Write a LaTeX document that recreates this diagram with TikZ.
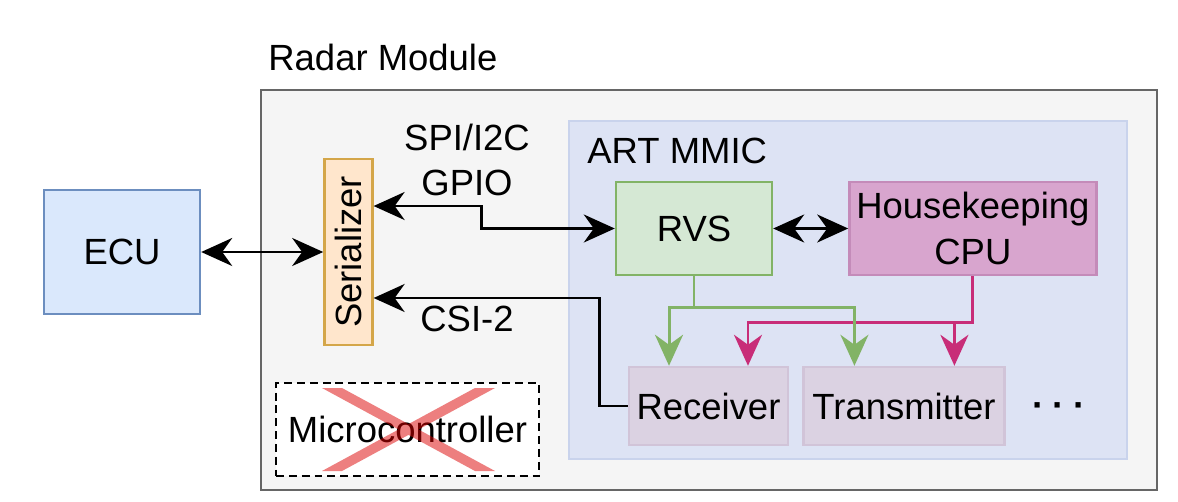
\documentclass[tikz,border=0pt]{standalone}
\usepackage{fontspec}
\setmainfont{Liberation Sans}
\usetikzlibrary{arrows.meta,positioning}
\definecolor{modfill}{HTML}{F5F5F5}
\definecolor{modline}{HTML}{666666}
\definecolor{ecufill}{HTML}{DAE8FC}
\definecolor{eculine}{HTML}{6C8EBF}
\definecolor{serfill}{HTML}{FFE6CC}
\definecolor{serline}{HTML}{D4A649}
\definecolor{mmicfill}{HTML}{DDE3F4}
\definecolor{mmicline}{HTML}{C9D3EC}
\definecolor{rvsfill}{HTML}{D5E8D4}
\definecolor{rvsline}{HTML}{82B366}
\definecolor{hkfill}{HTML}{D8A5CE}
\definecolor{hkline}{HTML}{C48BB9}
\definecolor{rffill}{HTML}{DBD2E2}
\definecolor{rfline}{HTML}{D1C4D8}
\definecolor{hkpink}{HTML}{C82D78}
\definecolor{crossred}{RGB}{220,0,0}

\begin{document}
\begin{tikzpicture}[x=0.02cm,y=-0.02cm,>={Stealth[length=0.62cm,width=0.56cm,inset=0.2cm]},line width=1.6pt,font=\fontsize{20.75}{26}\selectfont]
\tikzstyle{box}=[draw,inner sep=2pt,line width=1.4pt]
\tikzstyle{txt}=[inner sep=0pt]
\tikzstyle{link}=[line width=1.7pt]
  \useasboundingbox (0,0) rectangle (1178,501);
  \node[box,draw=modline,fill=modfill,minimum width=17.92cm,minimum height=8cm](module) at (709,290){};
  \node[txt,anchor=west](module-label) at (267,57){Radar Module};
  \node[box,draw=mmicline,fill=mmicfill,minimum width=11.16cm,minimum height=6.76cm](mmic) at (848,290){};
  \node[txt,anchor=west](mmic-label) at (586,151){ART MMIC};
  \node[box,draw=eculine,fill=ecufill,minimum width=3.12cm,minimum height=2.48cm](ecu) at (122,252){ECU};
  \node[box,draw=serline,fill=serfill,minimum width=0.96cm,minimum height=3.72cm,right=2.44cm of ecu](ser){\rotatebox{90}{Serializer}};
  \node[box,draw=rvsline,fill=rvsfill,minimum width=3.12cm,minimum height=1.86cm](rvs) at (694,228.5){RVS};
  \node[box,draw=hkline,fill=hkfill,minimum width=4.94cm,minimum height=1.86cm,align=center,right=1.5cm of rvs](hk){Housekeeping\\CPU};
  \node[box,draw=rfline,fill=rffill,minimum width=3.18cm,minimum height=1.56cm](rx) at (708.5,406){Receiver};
  \node[box,draw=rfline,fill=rffill,minimum width=4.02cm,minimum height=1.56cm,right=0.26cm of rx](tx){Transmitter};
  \node[txt,anchor=base](dots) at (1059,417){\bfseries ·\hspace{5pt}·\hspace{5pt}·};
  \node[box,fill=white,dash pattern=on 4.5pt off 2.8pt,minimum width=5.26cm,minimum height=1.86cm](mcu) at (407.5,429.5){Microcontroller};
  \fill[crossred,opacity=.5] (322,388)--(342,388)--(495,471)--(475,471)--cycle (475,388)--(495,388)--(342,471)--(322,471)--cycle;
  \node[txt,align=center](spi) at (467,160){SPI/I2C\\GPIO};
  \node[txt](csi) at (467,319){CSI-2};
  \draw[<->](ecu)--(ser);
  \draw[<->]([yshift=.92cm]ser.east)--++(108,0)|-(rvs.west);
  \draw[->](rx.west)--++(-28,0)|-([yshift=-.92cm]ser.east);
  \draw[<->](rvs)--(hk);
  \coordinate[below=.92cm of hk.south](hk-split);
  \draw[link,hkpink,->](hk.south)--(hk-split)-|([xshift=.79cm]rx.north);
  \draw[link,hkpink,->](hk-split)-|([xshift=1.01cm]tx.north);
  \coordinate[below=.62cm of rvs.south](rvs-split);
  \draw[link,rvsline,->](rvs.south)--(rvs-split)-|([xshift=-.79cm]rx.north);
  \draw[link,rvsline,->](rvs-split)-|([xshift=-.99cm]tx.north);
\end{tikzpicture}
\end{document}
